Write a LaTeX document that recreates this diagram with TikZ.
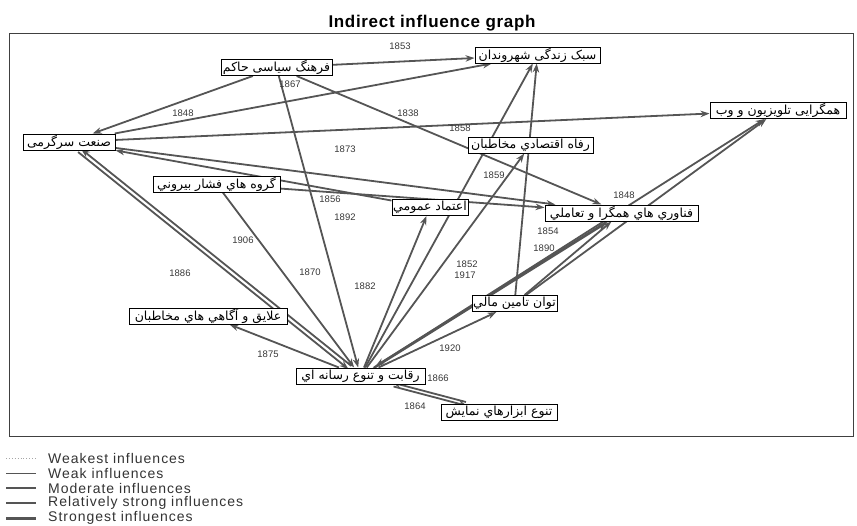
\documentclass[tikz,border=0pt]{standalone}
\usepackage{fontspec}
\setmainfont{Liberation Sans}
\newfontfamily\arabicfont[Script=Arabic]{DejaVu Sans}
\TeXXeTstate=1
\usetikzlibrary{arrows.meta,backgrounds}
\newcommand\fa[1]{{\arabicfont\beginR #1\endR}}
\definecolor{egray}{RGB}{85,85,85}
\definecolor{lgray}{RGB}{55,55,55}
\tikzset{
  nd/.style={draw=black, line width=1pt, fill=white, minimum height=16pt, inner xsep=1pt, inner ysep=0pt, font=\fontsize{12.5}{13}\selectfont},
  ed/.style={draw=egray, line width=1.8pt, -{Stealth[length=9pt,width=6.5pt]}},
  lab/.style={font=\fontsize{9.5}{10}\selectfont, text=lgray, inner sep=0pt},
  legline/.style={draw=egray},
  legtext/.style={font=\fontsize{14}{15}\selectfont\addfontfeature{LetterSpace=7}, text=black!80, anchor=west, inner sep=0pt}
}
\begin{document}
\begin{tikzpicture}[x=1pt,y=-1pt]
\useasboundingbox (0,0) rectangle (857,525);
\node[font=\bfseries\fontsize{17}{18}\selectfont\addfontfeature{LetterSpace=4}, anchor=base] (title) at (432,27) {Indirect influence graph};
\draw[line width=0.9pt, draw=black!75] (9,33) rectangle (853,436);
% nodes
\node[nd, minimum width=111pt] (farhang) at (276.5,67.5) {\fa{فرهنگ سیاسی حاکم}};
\node[nd, minimum width=125pt] (sabk) at (537.5,55) {\fa{سبک زندگی شهروندان}};
\node[nd, minimum width=136pt] (hamg) at (778,110.5) {\fa{همگرایی تلویزیون و وب}};
\node[nd, minimum width=92pt] (sanat) at (69,142) {\fa{صنعت سرگرمی}};
\node[nd, minimum width=125pt] (refah) at (530.5,145) {\fa{رفاه اقتصادي مخاطبان}};
\node[nd, minimum width=127pt] (gorooh) at (216.5,184) {\fa{گروه هاي فشار بيروني}};
\node[nd, minimum width=76pt] (etemad) at (430,207.5) {\fa{اعتماد عمومي}};
\node[nd, minimum width=153pt] (fanav) at (621.5,213) {\fa{فناوري هاي همگرا و تعاملي}};
\node[nd, minimum width=85pt] (tavan) at (514.5,303.5) {\fa{توان تامين مالي}};
\node[nd, minimum width=158pt] (alayegh) at (208,316) {\fa{علايق و آگاهي هاي مخاطبان}};
\node[nd, minimum width=129pt] (reghabat) at (360.5,376) {\fa{رقابت و تنوع رسانه اي}};
\node[nd, minimum width=116pt] (tanavo) at (499,412.5) {\fa{تنوع ابزارهاي نمايش}};
% edges
\begin{scope}[on background layer]
\draw[ed] (farhang) -- (sabk);
\draw[ed] (farhang) -- (sanat);
\draw[ed] (farhang) -- (fanav);
\draw[ed] (farhang) -- (reghabat);
\draw[ed] (sanat) -- (sabk);
\draw[ed] (sanat) -- (hamg);
\draw[ed] (sanat) -- (fanav);
\draw[ed] (etemad) -- (sanat);
\draw[ed] (gorooh) -- (fanav);
\draw[ed] (gorooh) -- (reghabat);
\draw[ed, transform canvas={shift={(-1.5pt,-1.5pt)}}] (sanat) -- (reghabat);
\draw[ed, transform canvas={shift={(1.5pt,1.5pt)}}] (reghabat) -- (sanat);
\draw[ed] (reghabat) -- (etemad);
\draw[ed] (reghabat) -- (sabk);
\draw[ed] (reghabat) -- (refah);
\draw[ed] (tavan) -- (sabk);
\draw[ed, transform canvas={shift={(-1.5pt,-1.5pt)}}] (reghabat) -- (fanav);
\draw[ed, transform canvas={shift={(1.5pt,1.5pt)}}] (fanav) -- (reghabat);
\draw[ed] (reghabat) -- (hamg);
\draw[ed] (tavan) -- (fanav);
\draw[ed] (tavan) -- (hamg);
\draw[ed] (reghabat) -- (tavan);
\draw[ed] (reghabat) -- (alayegh);
\draw[ed, transform canvas={shift={(0.8pt,-2pt)}}] (reghabat) -- (tanavo);
\draw[ed, transform canvas={shift={(-0.8pt,2pt)}}] (tanavo) -- (reghabat);
\end{scope}
% edge labels
\node[lab] (l1) at (400,46) {1853};
\node[lab] (l2) at (290,84) {1867};
\node[lab] (l3) at (183,113) {1848};
\node[lab] (l4) at (408,113) {1838};
\node[lab] (l5) at (460,128) {1858};
\node[lab] (l6) at (345,149) {1873};
\node[lab] (l7) at (494,175) {1859};
\node[lab] (l8) at (624,195) {1848};
\node[lab] (l9) at (330,199) {1856};
\node[lab] (l10) at (345,217) {1892};
\node[lab] (l11) at (243,240) {1906};
\node[lab] (l12) at (548,231) {1854};
\node[lab] (l13) at (544,248) {1890};
\node[lab] (l14) at (467,264) {1852};
\node[lab] (l15) at (465,275) {1917};
\node[lab] (l16) at (180,273) {1886};
\node[lab] (l17) at (310,272) {1870};
\node[lab] (l18) at (365,286) {1882};
\node[lab] (l19) at (268,354) {1875};
\node[lab] (l20) at (450,348) {1920};
\node[lab] (l21) at (438,378) {1866};
\node[lab] (l22) at (415,406) {1864};
% legend
\coordinate (a1) at (6,458); \coordinate (b1) at (36,458);
\coordinate (a2) at (6,473); \coordinate (b2) at (36,473);
\coordinate (a3) at (6,488); \coordinate (b3) at (36,488);
\coordinate (a4) at (6,503); \coordinate (b4) at (36,503);
\coordinate (a5) at (6,518); \coordinate (b5) at (36,518);
\draw[legline, draw=black!35, dotted, line width=0.9pt] (a1) -- (b1);
\draw[legline, line width=0.9pt] (a2) -- (b2);
\draw[legline, line width=1.4pt] (a3) -- (b3);
\draw[legline, line width=2.2pt] (a4) -- (b4);
\draw[legline, line width=3pt] (a5) -- (b5);
\node[legtext] (t1) at (48,458) {Weakest influences};
\node[legtext] (t2) at (48,473) {Weak influences};
\node[legtext] (t3) at (48,488) {Moderate influences};
\node[legtext] (t4) at (48,503) {Relatively strong influences};
\node[legtext] (t5) at (48,518) {Strongest influences};
\end{tikzpicture}
\end{document}
